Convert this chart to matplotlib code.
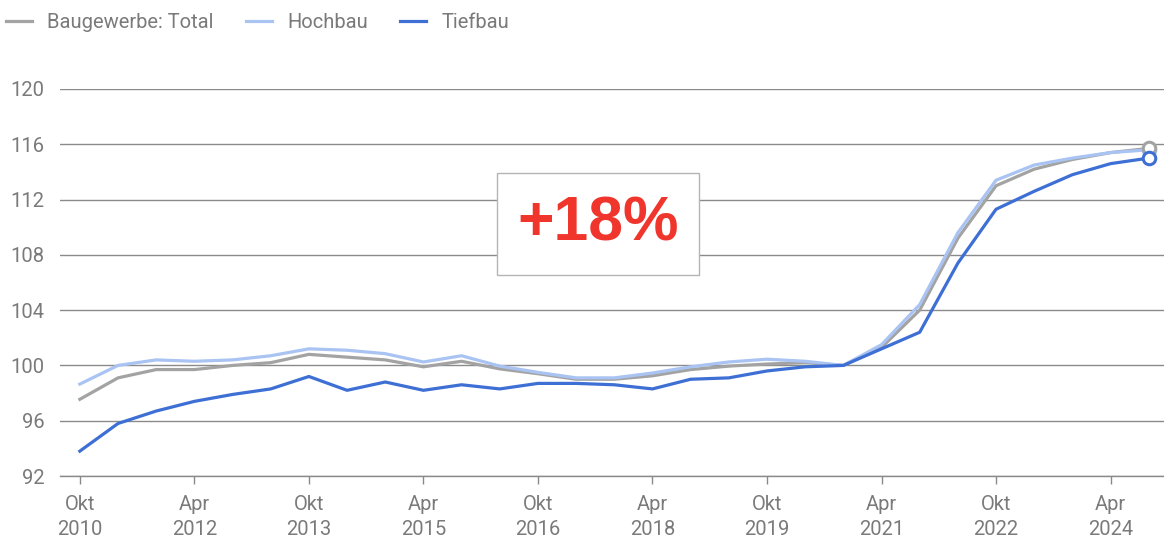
import matplotlib
matplotlib.use('Agg')
import matplotlib.pyplot as plt
from matplotlib.patches import Rectangle

# Halbjahreswerte Okt 2010 .. Okt 2024 (Okt 2020 = 100)
perioden = ['Okt 2010', 'Apr 2011', 'Okt 2011', 'Apr 2012', 'Okt 2012', 'Apr 2013',
            'Okt 2013', 'Apr 2014', 'Okt 2014', 'Apr 2015', 'Okt 2015', 'Apr 2016',
            'Okt 2016', 'Apr 2017', 'Okt 2017', 'Apr 2018', 'Okt 2018', 'Apr 2019',
            'Okt 2019', 'Apr 2020', 'Okt 2020', 'Apr 2021', 'Okt 2021', 'Apr 2022',
            'Okt 2022', 'Apr 2023', 'Okt 2023', 'Apr 2024', 'Okt 2024']

total = [97.55, 99.1, 99.7, 99.7, 100.0, 100.2, 100.8, 100.6, 100.4, 99.9,
         100.3, 99.75, 99.4, 99.0, 99.0, 99.25, 99.7, 99.95, 100.1, 100.2,
         100.0, 101.3, 104.0, 109.2, 113.0, 114.2, 114.9, 115.4, 115.7]
hochbau = [98.65, 100.0, 100.4, 100.3, 100.4, 100.7, 101.2, 101.1, 100.85, 100.25,
           100.7, 99.95, 99.5, 99.1, 99.1, 99.45, 99.9, 100.25, 100.45, 100.3,
           100.0, 101.5, 104.4, 109.6, 113.4, 114.5, 115.0, 115.4, 115.6]
tiefbau = [93.8, 95.8, 96.7, 97.4, 97.9, 98.3, 99.2, 98.2, 98.8, 98.2,
           98.6, 98.3, 98.7, 98.7, 98.6, 98.3, 99.0, 99.1, 99.6, 99.9,
           100.0, 101.2, 102.4, 107.4, 111.3, 112.6, 113.8, 114.6, 115.0]

tick_idx = list(range(0, 28, 3))
tick_labels = [perioden[i].replace(' ', '\n') for i in tick_idx]

c_total = '#a3a3a3'
c_hoch = '#a9c3f2'
c_tief = '#3d6fd4'
c_text = '#7a7a7a'
c_grid = '#8a8a8a'

plt.rcParams['font.family'] = ['Roboto', 'DejaVu Sans']

fig = plt.figure(figsize=(11.64, 5.37), dpi=100)
ax = fig.add_axes([60/1164, 1-476/537, 1-60/1164, (476-89)/537])

x = list(range(len(perioden)))
for serie, farbe, name in [(total, c_total, 'Baugewerbe: Total'),
                           (hochbau, c_hoch, 'Hochbau'),
                           (tiefbau, c_tief, 'Tiefbau')]:
    ax.plot(x, serie, color=farbe, lw=2.3, label=name, zorder=3, clip_on=False)
for serie, farbe in [(hochbau, c_hoch), (total, c_total), (tiefbau, c_tief)]:
    ax.plot(x[-1], serie[-1], 'o', ms=9, mfc='white', mec=farbe, mew=2.2,
            zorder=4, clip_on=False)

ax.set_xlim(-0.52, 28.4)
ax.set_ylim(92, 120)
ax.set_yticks(range(92, 121, 4))
ax.set_xticks(tick_idx)
ax.set_xticklabels(tick_labels, linespacing=1.35)
ax.yaxis.grid(True, color=c_grid, lw=1)
ax.set_axisbelow(True)
for s in ax.spines.values():
    s.set_visible(False)
ax.spines['bottom'].set_visible(True)
ax.spines['bottom'].set_color(c_grid)
ax.spines['bottom'].set_linewidth(1)
ax.tick_params(axis='y', length=0, pad=11, labelsize=14.5, labelcolor=c_text)
ax.tick_params(axis='x', length=6, width=1, color=c_grid, pad=8,
               labelsize=14.5, labelcolor=c_text)

# Kasten mit +18%
ax.add_patch(Rectangle((437/1104, (476-275)/387), 202/1104, 102/387,
                       transform=ax.transAxes, facecolor='white',
                       edgecolor='#b5b5b5', lw=1, zorder=2))
ax.text(538/1104, (476-224)/387, '+18%', transform=ax.transAxes,
        ha='center', va='center', fontsize=45, fontweight='bold',
        color='#f0362c', family='Liberation Sans', zorder=5)

fig.legend(loc='center left', bbox_to_anchor=(6/1164, 1-23/537), ncol=3,
           frameon=False, fontsize=14.5, labelcolor=c_text, handlelength=1.3,
           handletextpad=0.75, columnspacing=1.6, borderpad=0, borderaxespad=0)

fig.savefig('out.png', dpi=100, facecolor='white')
